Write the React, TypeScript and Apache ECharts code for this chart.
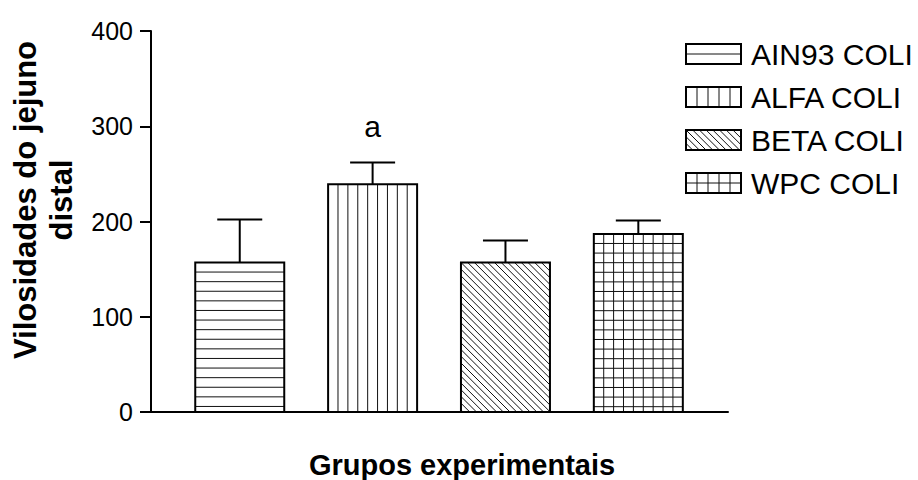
import { useEffect, useRef } from "react";
import * as echarts from "echarts";

// ---- data ----
const groups = ["AIN93 COLI", "ALFA COLI", "BETA COLI", "WPC COLI"];
const means = [157, 239, 157, 187];
const sems = [45, 23, 23, 14];
const marks = ["", "a", "", ""];
const patterns = ["horizontal", "vertical", "diagonal", "grid"];
const yTicks = { min: 0, max: 400, interval: 100 };
const yTitle = "Vilosidades do jejuno\ndistal";
const xTitle = "Grupos experimentais";

const FONT = '"Liberation Sans", Arial, Helvetica, sans-serif';
const BAR_W = 89;

type Opt = { rowStep?: number; rows?: number; cols: number; diag: number };

function hatchLines(kind: string, x: number, y: number, w: number, h: number, o: Opt) {
  const segs: number[][] = [];
  if (kind === "horizontal" || kind === "grid") {
    const step = o.rowStep ?? h / (o.rows || 2);
    for (let yy = y + step; yy < y + h - 0.8; yy += step) segs.push([x, yy, x + w, yy]);
  }
  if (kind === "vertical" || kind === "grid") {
    for (let i = 1; i < o.cols; i++) {
      const xx = x + (w * i) / o.cols;
      segs.push([xx, y, xx, y + h]);
    }
  }
  if (kind === "diagonal") {
    const s = o.diag;
    const n0 = -Math.floor(h / s);
    for (let n = n0; n * s < w; n++) {
      const k = n * s;
      const xa = Math.max(0, k);
      const xb = Math.min(w, h + k);
      if (xb - xa < 0.5) continue;
      segs.push([x + xa, y + xa - k, x + xb, y + xb - k]);
    }
  }
  return segs.map(([x1, y1, x2, y2]) => ({
    type: "line",
    silent: true,
    shape: { x1, y1, x2, y2 },
    style: { stroke: "#111", lineWidth: 1 },
  }));
}

export default function App() {
  const ref = useRef<HTMLDivElement>(null);

  useEffect(() => {
    if (!ref.current) return;
    const chart = echarts.init(ref.current, undefined, { renderer: "svg" });

    const barData = means.map((m, i) => [i, m]);
    const errData = means.map((m, i) => [i, m, m + sems[i]]);

    const legendEls: any[] = [];
    groups.forEach((g, i) => {
      const cy = 54 + i * 43;
      const lx = 686, lw = 55, lh = 20;
      const ly = cy - lh / 2;
      legendEls.push({ type: "rect", shape: { x: lx, y: ly, width: lw, height: lh }, style: { fill: "#fff" } });
      hatchLines(patterns[i], lx, ly, lw, lh, { rows: 2, cols: 5, diag: 6.7 }).forEach((l) => legendEls.push(l));
      legendEls.push({
        type: "rect",
        shape: { x: lx, y: ly, width: lw, height: lh },
        style: { fill: "none", stroke: "#000", lineWidth: 2 },
      });
      legendEls.push({
        type: "text",
        x: 751,
        y: cy,
        style: { text: g, fontFamily: FONT, fontSize: 30, fill: "#000", align: "left", verticalAlign: "middle" },
      });
    });

    chart.setOption({
      animation: false,
      backgroundColor: "#fff",
      grid: { left: 151, right: 190, top: 31, bottom: 68 },
      xAxis: {
        type: "value",
        min: -0.668,
        max: 3.675,
        axisLine: { show: true, onZero: false, lineStyle: { color: "#000", width: 2 } },
        axisTick: { show: false },
        axisLabel: { show: false },
        splitLine: { show: false },
      },
      yAxis: {
        type: "value",
        min: yTicks.min,
        max: yTicks.max,
        interval: yTicks.interval,
        axisLine: { show: true, onZero: false, lineStyle: { color: "#000", width: 2 } },
        axisTick: { show: true, inside: false, length: 11, lineStyle: { color: "#000", width: 2 } },
        axisLabel: { color: "#000", fontFamily: FONT, fontSize: 25, margin: 18 },
        splitLine: { show: false },
      },
      series: [
        {
          type: "custom",
          name: "bars",
          data: barData,
          renderItem: (params: any, api: any) => {
            const i = params.dataIndex;
            const xv = api.value(0);
            const top = api.coord([xv, api.value(1)]);
            const base = api.coord([xv, 0]);
            const x = top[0] - BAR_W / 2;
            const y = top[1];
            const h = base[1] - top[1];
            return {
              type: "group",
              children: [
                { type: "rect", shape: { x, y, width: BAR_W, height: h }, style: { fill: "#fff" } },
                ...hatchLines(patterns[i], x, y, BAR_W, h, { rowStep: 9.6, cols: 9, diag: 6.7 }),
                {
                  type: "rect",
                  shape: { x, y, width: BAR_W, height: h },
                  style: { fill: "none", stroke: "#000", lineWidth: 2 },
                },
              ],
            };
          },
        },
        {
          type: "custom",
          name: "errors",
          data: errData,
          z: 5,
          renderItem: (params: any, api: any) => {
            const i = params.dataIndex;
            const xv = api.value(0);
            const p0 = api.coord([xv, api.value(1)]);
            const p1 = api.coord([xv, api.value(2)]);
            const children: any[] = [
              { type: "line", shape: { x1: p0[0], y1: p0[1], x2: p1[0], y2: p1[1] }, style: { stroke: "#000", lineWidth: 2 } },
              { type: "line", shape: { x1: p1[0] - 22.5, y1: p1[1], x2: p1[0] + 22.5, y2: p1[1] }, style: { stroke: "#000", lineWidth: 2 } },
            ];
            if (marks[i]) {
              children.push({
                type: "text",
                x: p1[0],
                y: p1[1] - 36,
                style: { text: marks[i], fontFamily: FONT, fontSize: 30, fill: "#000", align: "center", verticalAlign: "middle" },
              });
            }
            return { type: "group", children };
          },
        },
      ],
      graphic: [
        ...legendEls,
        {
          type: "text",
          x: 43,
          y: 200,
          rotation: Math.PI / 2,
          style: {
            text: yTitle,
            fontFamily: FONT,
            fontSize: 31,
            fontWeight: "bold",
            fill: "#000",
            align: "center",
            verticalAlign: "middle",
            lineHeight: 36,
          },
        },
        {
          type: "text",
          x: 462,
          y: 465,
          style: {
            text: xTitle,
            fontFamily: FONT,
            fontSize: 29,
            fontWeight: "bold",
            fill: "#000",
            align: "center",
            verticalAlign: "middle",
          },
        },
      ],
    });

    return () => chart.dispose();
  }, []);

  return (
    <div
      ref={ref}
      style={{ position: "fixed", left: 0, top: 0, width: 918, height: 480, background: "#fff" }}
    />
  );
}
